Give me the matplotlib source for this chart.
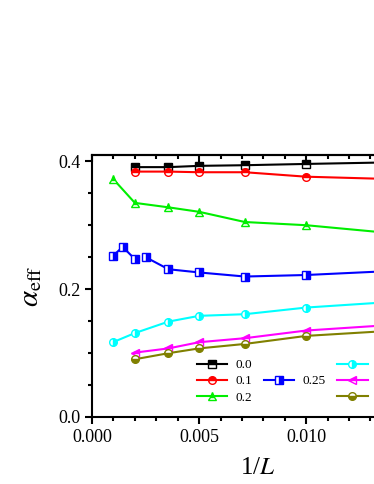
import numpy as np
import matplotlib
matplotlib.use("Agg")
import matplotlib.pyplot as plt
from matplotlib.lines import Line2D
from matplotlib.ticker import MultipleLocator, FuncFormatter

plt.rcParams['font.family'] = ['Liberation Serif', 'DejaVu Serif']
plt.rcParams['mathtext.fontset'] = 'stix'

# data: 1/L values and alpha_eff for each series
x_black = [0.002, 0.00357, 0.005, 0.00714, 0.01, 0.0143]
y_black = [0.391, 0.391, 0.393, 0.394, 0.396, 0.3987]

x_red = [0.002, 0.00357, 0.005, 0.00714, 0.01, 0.0143]
y_red = [0.384, 0.384, 0.383, 0.383, 0.376, 0.372]

x_green = [0.001, 0.002, 0.00357, 0.005, 0.00714, 0.01, 0.0143]
y_green = [0.372, 0.335, 0.328, 0.321, 0.305, 0.300, 0.2865]

x_blue = [0.001, 0.00143, 0.002, 0.00225, 0.0025, 0.00357, 0.005, 0.00714, 0.01, 0.0143]
y_blue = [0.2525, 0.266, 0.247, np.nan, 0.250, 0.231, 0.226, 0.2196, 0.222, 0.2288]

x_cyan = [0.001, 0.002, 0.00357, 0.005, 0.00714, 0.01, 0.0143]
y_cyan = [0.117, 0.131, 0.149, 0.158, 0.1606, 0.171, 0.1805]

x_mag = [0.002, 0.00357, 0.005, 0.00714, 0.01, 0.0143]
y_mag = [0.1004, 0.107, 0.1167, 0.123, 0.135, 0.1445]

x_olive = [0.002, 0.00357, 0.005, 0.00714, 0.01, 0.0143]
y_olive = [0.090, 0.0995, 0.107, 0.114, 0.1266, 0.1353]

# legend labels (the last column's labels lie outside the visible figure)
labels = ["0.0", "0.1", "0.2", "0.25", "", "", ""]

fig = plt.figure(figsize=(3.74, 4.84), dpi=100)
ax = fig.add_axes([92/374, 67.3/484, 332/374, 261.7/484])

series = [
    (x_black, y_black, 'black', 's', 'top'),
    (x_red, y_red, '#ff0000', 'o', 'top'),
    (x_green, y_green, '#00ee00', '^', 'top'),
    (x_blue, y_blue, '#0000ff', 's', 'right'),
    (x_cyan, y_cyan, '#00ffff', 'o', 'right'),
    (x_mag, y_mag, '#ff00ff', '<', 'top'),
    (x_olive, y_olive, '#808000', 'o', 'bottom'),
]
handles = []
for (xs, ys, c, m, fs), lab in zip(series, labels):
    h, = ax.plot(xs, ys, color=c, lw=1.5, marker=m, ms=5.5, fillstyle=fs,
                 markerfacecolor=c, markerfacecoloralt='white',
                 markeredgecolor=c, markeredgewidth=1.0, label=lab)
    handles.append(h)

ax.set_xlim(0, 0.0155)
ax.set_ylim(0, 0.41)
ax.xaxis.set_major_locator(MultipleLocator(0.005))
ax.xaxis.set_minor_locator(MultipleLocator(0.001))
ax.yaxis.set_major_locator(MultipleLocator(0.2))
ax.yaxis.set_minor_locator(MultipleLocator(0.05))
ax.xaxis.set_major_formatter(FuncFormatter(lambda v, p: '' if v > 0.012 else f'{v:.3f}'))
ax.yaxis.set_major_formatter(FuncFormatter(lambda v, p: f'{v:.1f}'))
for s in ax.spines.values():
    s.set_linewidth(1.5)
ax.tick_params(which='major', direction='out', length=5, width=1.5, labelsize=13)
ax.tick_params(which='minor', direction='out', length=3, width=1.5)

sec = ax.secondary_xaxis('top')
sec.xaxis.set_major_locator(MultipleLocator(0.005))
sec.xaxis.set_minor_locator(MultipleLocator(0.001))
sec.tick_params(which='major', direction='in', length=5, width=1.5, labeltop=False)
sec.tick_params(which='minor', direction='in', length=3, width=1.5)
sec.spines['top'].set_linewidth(1.5)

ax.set_xlabel('1/$L$', fontsize=18, labelpad=8)
ax.set_ylabel(r'$\alpha_{\mathrm{eff}}$', fontsize=21, labelpad=10)

blank = Line2D([], [], linestyle='none', marker='none')
leg_handles = [handles[0], handles[1], handles[2], blank, handles[3], blank,
               handles[4], handles[5], handles[6]]
leg_labels = [labels[0], labels[1], labels[2], '', labels[3], '',
              labels[4], labels[5], labels[6]]
fig.legend(leg_handles, leg_labels, ncol=3, loc='upper left',
           bbox_to_anchor=(197/374, 1 - 359/484), frameon=False,
           fontsize=9.5, handlelength=2.3, handletextpad=0.6,
           columnspacing=0.9, labelspacing=0.3, borderpad=0, borderaxespad=0)

fig.savefig('out.png', dpi=100)
